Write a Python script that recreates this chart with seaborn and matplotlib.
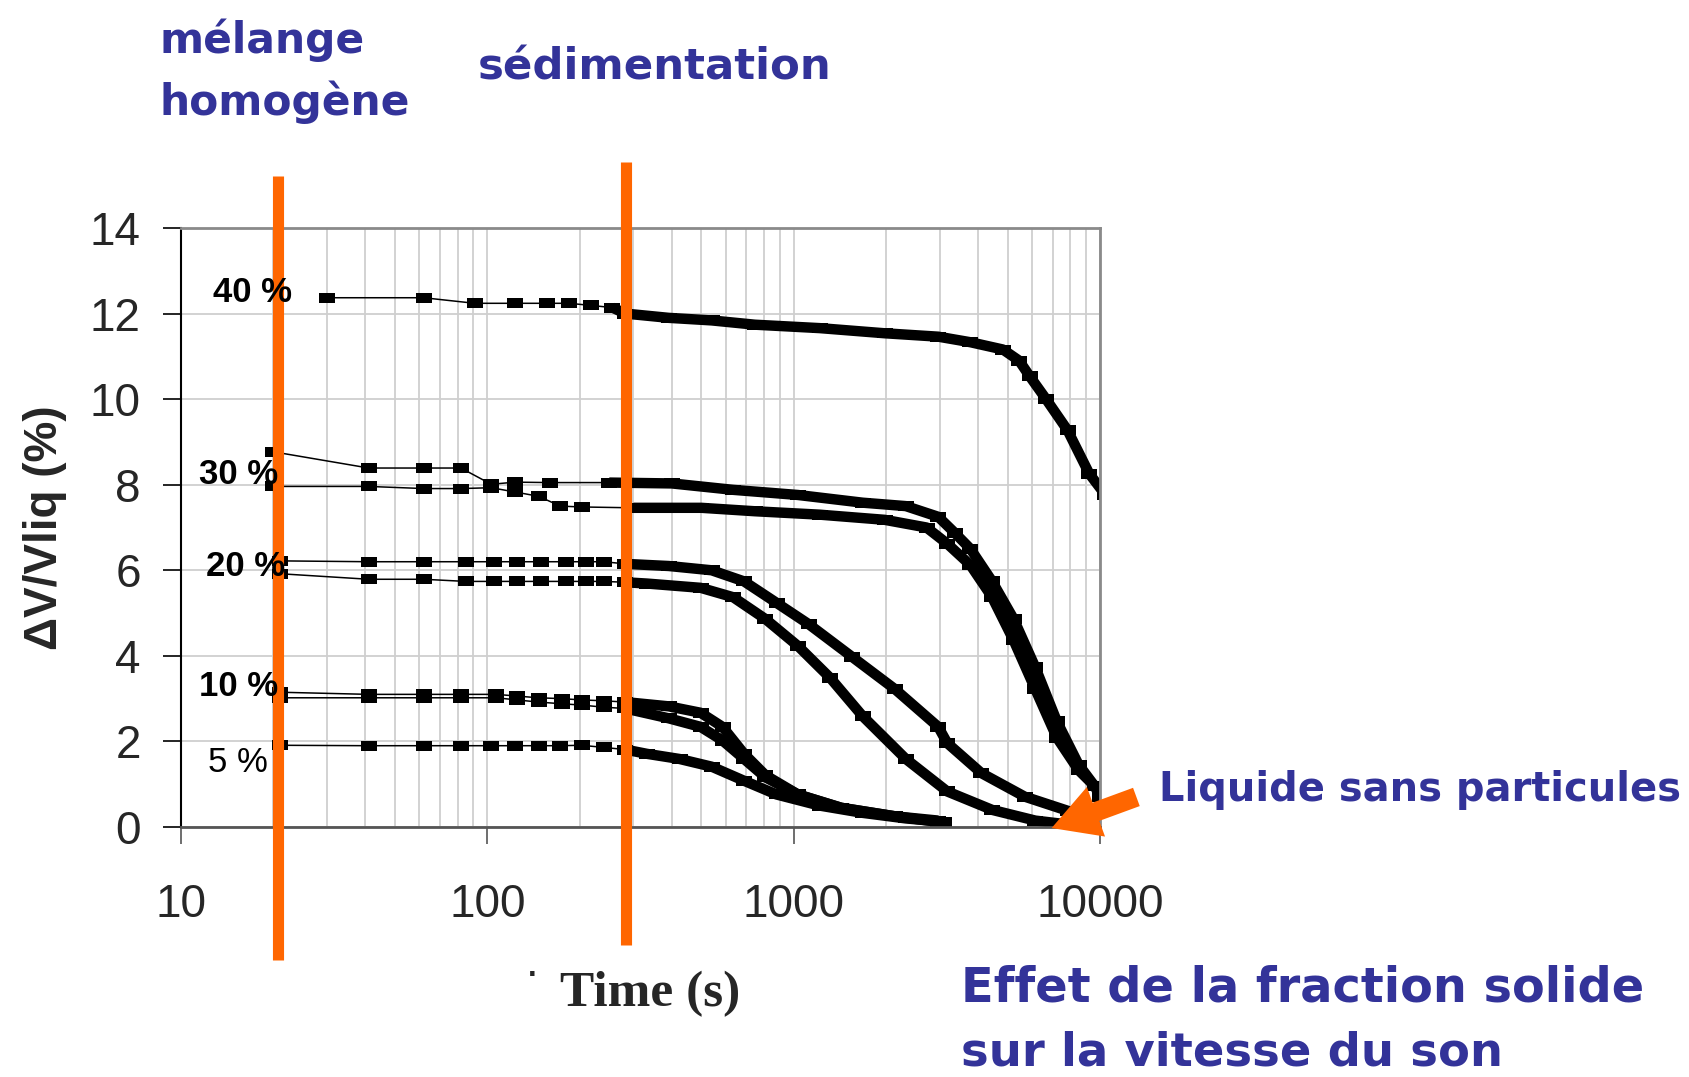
import numpy as np
import pandas as pd
import matplotlib
matplotlib.use("Agg")
import matplotlib.pyplot as plt
import seaborn as sns

# ---------------- data ----------------
t_40 = [30, 62, 91, 123, 157, 185, 218, 256, 282, 391, 540, 747, 1216, 1980, 2965,
        3777, 4822, 5444, 5903, 6668, 7840, 9220, 10420]
v_40 = [12.37, 12.37, 12.24, 12.24, 12.24, 12.24, 12.19, 12.14, 12.0, 11.9, 11.84, 11.74,
        11.66, 11.54, 11.46, 11.33, 11.16, 10.9, 10.53, 10.0, 9.27, 8.26, 7.76]

t_30a = [20, 41, 62, 82, 103, 123, 160, 250, 400, 635, 1033, 1680, 2324, 2965, 3350,
         3777, 4446, 5227, 6150, 7230, 8510, 9600, 10000]
v_30a = [8.77, 8.39, 8.39, 8.39, 8.01, 8.06, 8.05, 8.05, 8.03, 7.88, 7.76, 7.58, 7.5, 7.25,
         6.88, 6.5, 5.74, 4.86, 3.73, 2.47, 1.46, 0.96, 0.7]

t_30b = [20, 41, 62, 82, 103, 123, 147, 173, 203, 300, 500, 747, 1216, 1980, 2715, 3174,
         3777, 4446, 5227, 6150, 7230, 8510, 10000]
v_30b = [7.96, 7.96, 7.91, 7.91, 7.93, 7.83, 7.73, 7.5, 7.48, 7.46, 7.46, 7.38, 7.3, 7.18,
         7.0, 6.62, 6.12, 5.37, 4.36, 3.22, 2.09, 1.33, 0.83]

t_20a = [21, 41, 62, 85, 105, 125, 150, 180, 210, 240, 282, 391, 540, 689, 879, 1120, 1549,
         2143, 2965, 3174, 4100, 5675, 7840, 9600]
v_20a = [6.22, 6.2, 6.2, 6.2, 6.2, 6.2, 6.2, 6.2, 6.2, 6.2, 6.15, 6.1, 6.0, 5.74, 5.24, 4.74,
         3.98, 3.22, 2.34, 1.96, 1.26, 0.71, 0.38, 0.2]

t_20b = [21, 41, 62, 85, 105, 125, 150, 180, 210, 240, 282, 332, 497, 635, 809, 1033, 1318,
         1680, 2324, 3174, 4446, 6150, 8510]
v_20b = [5.92, 5.79, 5.79, 5.74, 5.74, 5.74, 5.74, 5.74, 5.74, 5.74, 5.72, 5.69, 5.59, 5.37,
         4.86, 4.23, 3.48, 2.59, 1.59, 0.83, 0.4, 0.15, 0.03]

t_10a = [21, 41, 62, 82, 107, 125, 147, 175, 203, 240, 282, 391, 497, 586, 689, 809, 1033,
         1429, 2143, 2965]
v_10a = [3.15, 3.1, 3.1, 3.1, 3.1, 3.06, 3.02, 3.0, 2.97, 2.95, 2.92, 2.82, 2.67, 2.34, 1.71,
         1.21, 0.76, 0.45, 0.25, 0.15]

t_10b = [21, 41, 62, 82, 107, 125, 147, 175, 203, 240, 282, 391, 497, 586, 689, 809, 1033,
         1429, 2143, 2965]
v_10b = [3.02, 3.02, 3.02, 3.02, 3.02, 2.97, 2.92, 2.88, 2.85, 2.8, 2.77, 2.54, 2.34, 2.02,
         1.59, 1.16, 0.76, 0.45, 0.25, 0.12]

t_05 = [21, 41, 62, 82, 103, 123, 147, 173, 203, 240, 282, 332, 424, 540, 689, 879, 1216,
        1680, 2324, 3100]
v_05 = [1.91, 1.9, 1.9, 1.9, 1.9, 1.9, 1.9, 1.9, 1.91, 1.86, 1.81, 1.71, 1.59, 1.41, 1.08,
        0.76, 0.5, 0.33, 0.2, 0.12]

series = [(t_40, v_40), (t_30a, v_30a), (t_30b, v_30b), (t_20a, v_20a), (t_20b, v_20b),
          (t_10a, v_10a), (t_10b, v_10b), (t_05, v_05)]

series_labels = ["40 %", "30 %", "20 %", "10 %", "5 %"]

x_ticks = [10, 100, 1000, 10000]
x_ticklabels = ["10", "100", "1000", "10000"]
y_ticks = [0, 2, 4, 6, 8, 10, 12, 14]

phase_times = [20.7, 283]

# ---------------- figure ----------------
sns.set_theme(style="white")
plt.rcParams["font.family"] = ["Liberation Sans", "DejaVu Sans"]

W, H = 1690, 1077
fig = plt.figure(figsize=(W / 100, H / 100), dpi=100)
ax = fig.add_axes([181 / W, 1 - 827 / H, (1100 - 181) / W, (827 - 228) / H])

ax.set_xscale("log")
ax.set_xlim(10, 10000)
ax.set_ylim(0, 14)

# grid
ax.grid(True, which="both", axis="x", color="#cfcfcf", lw=1.3)
ax.grid(True, which="major", axis="y", color="#cfcfcf", lw=1.3)
ax.set_axisbelow(True)

rect = [(-1, -0.6), (1, -0.6), (1, 0.6), (-1, 0.6)]
DENSE = 250
for t, v in series:
    df = pd.DataFrame({"t": t, "v": v})
    sns.lineplot(data=df, x="t", y="v", ax=ax, color="black", lw=1.1,
                 marker=rect, markersize=11, markeredgewidth=0, estimator=None,
                 sort=False, legend=False)
    dd = df[df["t"] >= DENSE]
    sns.lineplot(data=dd, x="t", y="v", ax=ax, color="black", lw=7.5,
                 estimator=None, sort=False, legend=False,
                 solid_capstyle="butt", solid_joinstyle="round")

# spines
for s in ["top", "right"]:
    ax.spines[s].set_color("#8a8a8a")
    ax.spines[s].set_linewidth(2)
ax.spines["left"].set_color("black")
ax.spines["left"].set_linewidth(1.5)
ax.spines["bottom"].set_color("#555555")
ax.spines["bottom"].set_linewidth(2)

ax.set_xticks(x_ticks)
ax.set_xticklabels(x_ticklabels)
ax.xaxis.set_minor_formatter(matplotlib.ticker.NullFormatter())
ax.set_yticks(y_ticks)
ax.tick_params(axis="x", which="major", length=12, width=1.2, color="#555555",
               labelsize=33, pad=28, direction="out", bottom=True)
ax.tick_params(axis="x", which="minor", length=0)
ax.tick_params(axis="y", which="major", length=13, width=1.2, color="black",
               labelsize=33, pad=16, direction="out", left=True)
ax.set_xlabel("")
ax.set_ylabel("")

# series labels
label_pos = [(213, 293, "bold"), (199, 474, "bold"), (206, 566, "bold"),
             (199, 687, "bold"), (208, 762, "normal")]
for lab, (px, py, wt) in zip(series_labels, label_pos):
    fig.text(px / W, 1 - py / H, lab, fontsize=25, fontweight=wt, ha="left",
             va="center", color="black")

# orange phase lines
orange = "#FF6600"
ax.axvline(phase_times[0], ymin=(827 - 960) / 599, ymax=(827 - 176) / 599,
           color=orange, lw=8, clip_on=False, zorder=5, solid_capstyle="butt")
ax.axvline(phase_times[1], ymin=(827 - 945) / 599, ymax=(827 - 162) / 599,
           color=orange, lw=8, clip_on=False, zorder=5, solid_capstyle="butt")

# axis titles
fig.text(45 / W, 1 - 528 / H, "ΔV/Vliq (%)", rotation=90, fontsize=33,
         fontweight="bold", ha="center", va="center")
fig.text(650 / W, 1 - 994 / H, "Time (s)", fontsize=37, fontweight="bold",
         family="Liberation Serif", ha="center", va="center")
fig.text(532 / W, 1 - 968 / H, ".", fontsize=22, fontweight="bold", ha="center",
         va="center")

# blue annotations
blue = "#333399"
bfont = dict(color=blue, fontweight="bold", family="DejaVu Sans")
fig.text(160 / W, 1 - 40 / H, "mélange", fontsize=30.5, ha="left", va="center", **bfont)
fig.text(160 / W, 1 - 102 / H, "homogène", fontsize=30.5, ha="left", va="center", **bfont)
fig.text(478 / W, 1 - 68 / H, "sédimentation", fontsize=31.3, ha="left", va="center", **bfont)
fig.text(1159 / W, 1 - 790 / H, "Liquide sans particules", fontsize=28.8, ha="left",
         va="center", **bfont)
fig.text(961 / W, 1 - 988 / H, "Effet de la fraction solide", fontsize=34.5, ha="left",
         va="center", **bfont)
fig.text(961 / W, 1 - 1053 / H, "sur la vitesse du son", fontsize=33.5, ha="left",
         va="center", **bfont)

# orange arrow
fig.patches.append(matplotlib.patches.FancyArrowPatch(
    (1139 / W, 1 - 796 / H), (1049 / W, 1 - 829 / H), transform=fig.transFigure,
    arrowstyle="simple,head_width=1.9,head_length=1.7,tail_width=0.7",
    mutation_scale=20, color=orange, lw=0))

fig.savefig("out.png", dpi=100, facecolor="white")
